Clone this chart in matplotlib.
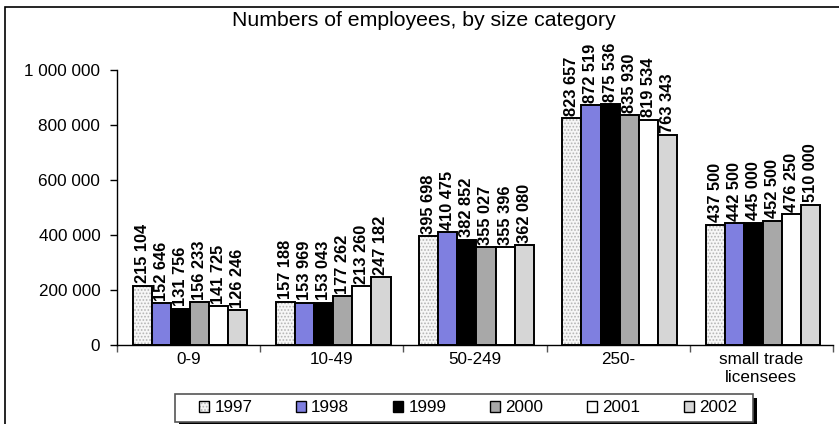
import numpy as np
import matplotlib.pyplot as plt
from matplotlib.colors import to_rgba
from matplotlib.patches import Rectangle

plt.rcParams['font.family'] = ['Liberation Sans', 'DejaVu Sans']
plt.rcParams['hatch.linewidth'] = 0.8

categories = ['0-9', '10-49', '50-249', '250-', 'small trade\nlicensees']
years = ['1997', '1998', '1999', '2000', '2001', '2002']
v1997 = [215104, 157188, 395698, 823657, 437500]
v1998 = [152646, 153969, 410475, 872519, 442500]
v1999 = [131756, 153043, 382852, 875536, 445000]
v2000 = [156233, 177262, 355027, 835930, 452500]
v2001 = [141725, 213260, 355396, 819534, 476250]
v2002 = [126246, 247182, 362080, 763343, 510000]
series = [v1997, v1998, v1999, v2000, v2001, v2002]

# look of each year: face colour, hatch, hatch colour
faces = ['#f6f6f6', '#7f7fe0', '#000000', '#a8a8a8', '#ffffff', '#d6d6d6']
hatches = ['.....', None, None, None, None, None]
hcolors = ['#b4b4b4', '#000000', '#000000', '#000000', '#000000', '#000000']


def fmt(v):
    return f"{v:,}".replace(",", " ")


fig = plt.figure(figsize=(8.39, 4.24), dpi=100)
ax = fig.add_axes([0.1395, 0.1863, 0.8533, 0.6486])

x = np.arange(len(categories))
w = 0.8 / len(years)
handles = []
for i, vals in enumerate(series):
    pos = x - 0.4 + w * (i + 0.5) + 0.01
    bars = ax.bar(pos, vals, w, color=faces[i], edgecolor='black',
                  linewidth=1.4, hatch=hatches[i], label=years[i])
    for b in bars:
        b._hatch_color = to_rgba(hcolors[i])
    handles.append(bars)
    for p, v in zip(pos, vals):
        ax.text(p, v + 9000, fmt(v), rotation=90, ha='center', va='bottom',
                fontsize=11.8, fontweight='bold', clip_on=False)

ax.set_xlim(-0.5, len(categories) - 0.5)
ax.set_ylim(0, 1000000)
ax.set_yticks(np.arange(0, 1000001, 200000))
ax.set_yticklabels([fmt(v) for v in range(0, 1000001, 200000)], fontsize=12.3)
ax.set_xticks(x)
ax.set_xticklabels(categories, fontsize=12.3, linespacing=1.25)
ax.tick_params(axis='x', length=0, pad=5)
ax.set_xticks(np.arange(-0.5, len(categories), 1), minor=True)
ax.tick_params(axis='x', which='minor', length=5, width=1, color='#555555')
ax.tick_params(axis='y', length=5, width=1, pad=7)
for s in ['top', 'right']:
    ax.spines[s].set_visible(False)
ax.spines['left'].set_linewidth(1)
ax.spines['bottom'].set_linewidth(1)

fig.text(0.505, 0.952, 'Numbers of employees, by size category',
         ha='center', va='center', fontsize=15.3)

# legend box with a solid shadow, drawn by hand
W, H = 839, 424
fig.patches.append(Rectangle((179 / W, -2 / H), 578 / W, 28 / H,
                             transform=fig.transFigure, facecolor='black',
                             edgecolor='none', zorder=1))
fig.patches.append(Rectangle((175 / W, 2 / H), 578 / W, 28 / H,
                             transform=fig.transFigure, facecolor='white',
                             edgecolor='#555555', linewidth=1.2, zorder=2))
leg = fig.legend(handles=handles, loc='center', ncol=6,
                 bbox_to_anchor=(468 / W, 16 / H), frameon=False,
                 borderaxespad=0, fontsize=12.3, handlelength=0.6,
                 handleheight=0.6, handletextpad=0.3, columnspacing=2.55,
                 borderpad=0)
leg.set_zorder(3)
for h in leg.legend_handles:
    h.set_linewidth(1)

# outer chart border
fig.patches.append(Rectangle((5 / W, -0.1), 1.2, 0.1 + (H - 7) / H,
                             transform=fig.transFigure, fill=False,
                             edgecolor='black', linewidth=1.2))

fig.savefig('out.png', dpi=100)
